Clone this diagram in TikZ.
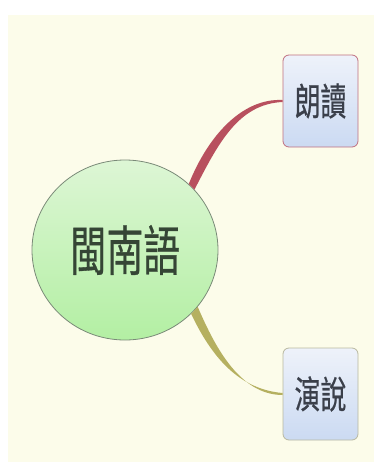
\documentclass[tikz,border=0pt]{standalone}
\usepackage{fontspec}
\newfontfamily\cjk[FakeBold=0.6]{Noto Sans CJK TC}
\usetikzlibrary{shapes.geometric,positioning}

\definecolor{paper}{HTML}{FCFCEA}
\definecolor{rootA}{HTML}{DDF6D5}
\definecolor{rootB}{HTML}{B3EFA3}
\definecolor{rootline}{HTML}{7A8A78}
\definecolor{boxA}{HTML}{EEF2FA}
\definecolor{boxB}{HTML}{CBDAF2}
\definecolor{redbranch}{HTML}{B8505E}
\definecolor{olivebranch}{HTML}{B5B060}
\definecolor{redline}{HTML}{C07080}
\definecolor{oliveline}{HTML}{B8B8A0}
\definecolor{inkroot}{HTML}{354535}
\definecolor{inkbox}{HTML}{3A3F4A}

\newcommand{\narrowtext}[2]{\scalebox{#1}[1]{#2}}

\tikzset{
  topic/.style={ellipse, draw=rootline, line width=0.8pt, top color=rootA, bottom color=rootB,
    minimum width=186pt, minimum height=180pt, inner sep=0pt, text=inkroot,
    font=\cjk\fontsize{54}{60}\selectfont},
  subtopic/.style={rectangle, rounded corners=6pt, line width=0.8pt, top color=boxA, bottom color=boxB,
    minimum width=75pt, minimum height=92pt, inner sep=0pt, text=inkbox,
    font=\cjk\fontsize{38}{44}\selectfont}
}

\begin{document}
\begin{tikzpicture}[x=1pt,y=-1pt]
    \useasboundingbox (0,0) rectangle (380,472);
    \fill[white] (0,0) rectangle (380,472);
    \fill[paper] (8,15) rectangle (374,462);

    \node[topic] (root) at (125,250) {\narrowtext{0.68}{閩南語}};
    \node[subtopic, draw=redline] (read) at (320.5,101) {\narrowtext{0.68}{朗讀}};
    \node[subtopic, draw=oliveline] (speech) at (320.5,394) {\narrowtext{0.68}{演說}};

    % tapered branches
    \fill[redbranch] (root.46) .. controls (208,136) and (242,98) .. ([yshift=1pt]read.west)
        -- ([yshift=-1pt]read.west) .. controls (238,104) and (218,144) .. (root.41) -- cycle;
    \fill[olivebranch] (root.-38) .. controls (213,342) and (238,395) .. ([yshift=-1pt]speech.west)
        -- ([yshift=1pt]speech.west) .. controls (234,389) and (208,349) .. (root.-44) -- cycle;
\end{tikzpicture}
\end{document}
